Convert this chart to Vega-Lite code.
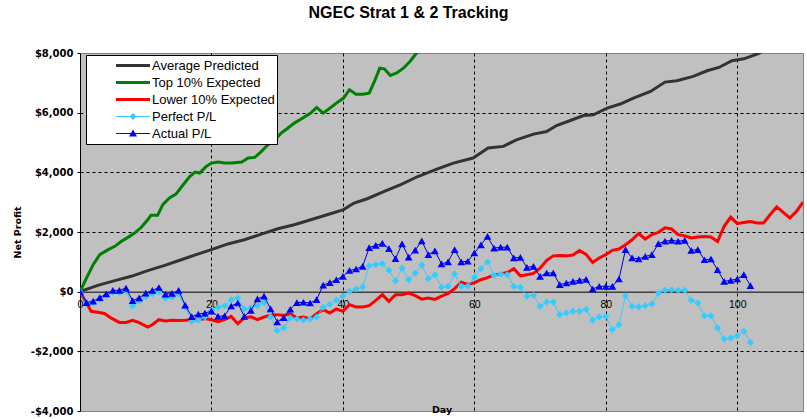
{
"$schema": "https://vega.github.io/schema/vega-lite/v6.json",
"width": 723, "height": 358,
"autosize": {"type": "none"},
"padding": {"left": 80, "top": 53, "right": 4, "bottom": 8},
"background": "white",
"title": {"text": "NGEC Strat 1 & 2 Tracking", "font": "Liberation Sans", "fontSize": 16, "fontWeight": "bold", "color": "black", "anchor": "middle", "dx": -33, "offset": 14, "baseline": "alphabetic"},
"datasets": {
"avg": [{"d":0,"v":0},{"d":2.7,"v":210},{"d":5.3,"v":370},{"d":7.8,"v":515},{"d":10.3,"v":705},{"d":12.9,"v":880},{"d":15.4,"v":1070},{"d":17.9,"v":1260},{"d":20,"v":1410},{"d":22.5,"v":1600},{"d":25,"v":1740},{"d":27.6,"v":1930},{"d":30.1,"v":2110},{"d":32.6,"v":2245},{"d":35.1,"v":2410},{"d":37.6,"v":2580},{"d":40.1,"v":2750},{"d":41.7,"v":2970},{"d":43.7,"v":3115},{"d":46.3,"v":3360},{"d":48.8,"v":3585},{"d":51.4,"v":3860},{"d":54.2,"v":4100},{"d":56.8,"v":4310},{"d":59.8,"v":4480},{"d":62.1,"v":4815},{"d":64.4,"v":4870},{"d":66.4,"v":5090},{"d":69,"v":5280},{"d":71,"v":5370},{"d":72.5,"v":5570},{"d":74.5,"v":5730},{"d":76.6,"v":5905},{"d":78.1,"v":5930},{"d":80.2,"v":6150},{"d":82.2,"v":6290},{"d":84.2,"v":6490},{"d":86.8,"v":6710},{"d":89,"v":7025},{"d":90.8,"v":7070},{"d":93.3,"v":7215},{"d":95.4,"v":7405},{"d":97.2,"v":7515},{"d":99.2,"v":7740},{"d":101,"v":7805},{"d":103,"v":7965},{"d":104.5,"v":8110},{"d":105.7,"v":8130}],
"top": [{"d":0,"v":0},{"d":1,"v":460},{"d":2,"v":905},{"d":3,"v":1240},{"d":4.3,"v":1410},{"d":5.3,"v":1520},{"d":6.3,"v":1690},{"d":7.3,"v":1820},{"d":8.3,"v":1965},{"d":9.3,"v":2150},{"d":10.3,"v":2410},{"d":10.8,"v":2560},{"d":11.8,"v":2560},{"d":12.6,"v":2915},{"d":13.6,"v":3140},{"d":14.6,"v":3270},{"d":15.7,"v":3585},{"d":16.7,"v":3860},{"d":17.5,"v":4010},{"d":18.2,"v":3975},{"d":19.2,"v":4200},{"d":20,"v":4310},{"d":21,"v":4345},{"d":22,"v":4310},{"d":23.1,"v":4310},{"d":24.6,"v":4345},{"d":25.6,"v":4480},{"d":26.6,"v":4500},{"d":27.6,"v":4700},{"d":28.6,"v":4925},{"d":29.6,"v":5090},{"d":30.6,"v":5315},{"d":31.6,"v":5480},{"d":32.6,"v":5650},{"d":33.9,"v":5820},{"d":35.1,"v":5985},{"d":36,"v":6175},{"d":37,"v":5985},{"d":38,"v":6150},{"d":39,"v":6320},{"d":40.1,"v":6490},{"d":41,"v":6770},{"d":42,"v":6620},{"d":43,"v":6620},{"d":44,"v":6655},{"d":44.8,"v":7045},{"d":45.6,"v":7490},{"d":46.3,"v":7470},{"d":47.2,"v":7250},{"d":48.2,"v":7330},{"d":49.2,"v":7490},{"d":50.2,"v":7715},{"d":51.2,"v":8000},{"d":52.5,"v":8140}],
"low": [{"d":0,"v":0},{"d":0.7,"v":-270},{"d":1.7,"v":-660},{"d":2.7,"v":-690},{"d":3.7,"v":-730},{"d":4.7,"v":-880},{"d":6,"v":-1030},{"d":7,"v":-1030},{"d":8,"v":-960},{"d":9,"v":-1040},{"d":10.3,"v":-1185},{"d":11,"v":-1110},{"d":12,"v":-940},{"d":13,"v":-980},{"d":14,"v":-960},{"d":15,"v":-970},{"d":16,"v":-960},{"d":17,"v":-930},{"d":18,"v":-950},{"d":19,"v":-900},{"d":20,"v":-940},{"d":21,"v":-1005},{"d":22,"v":-940},{"d":23,"v":-830},{"d":24,"v":-1075},{"d":25,"v":-880},{"d":26,"v":-840},{"d":27,"v":-940},{"d":28,"v":-850},{"d":29,"v":-790},{"d":30,"v":-770},{"d":31,"v":-800},{"d":32,"v":-740},{"d":33,"v":-880},{"d":34,"v":-850},{"d":35,"v":-915},{"d":36,"v":-740},{"d":37,"v":-600},{"d":38,"v":-715},{"d":39,"v":-580},{"d":40,"v":-660},{"d":41,"v":-435},{"d":42,"v":-515},{"d":43,"v":-515},{"d":44,"v":-470},{"d":45,"v":-290},{"d":46,"v":-100},{"d":47,"v":-325},{"d":48,"v":-100},{"d":49,"v":-100},{"d":50,"v":-45},{"d":51,"v":-135},{"d":52,"v":-250},{"d":53,"v":-210},{"d":54,"v":-260},{"d":55,"v":-150},{"d":56,"v":-60},{"d":57,"v":100},{"d":58,"v":320},{"d":59,"v":240},{"d":60,"v":300},{"d":61,"v":400},{"d":62,"v":470},{"d":63,"v":560},{"d":64,"v":590},{"d":65,"v":640},{"d":66,"v":770},{"d":67,"v":530},{"d":68,"v":570},{"d":69,"v":610},{"d":70,"v":790},{"d":71,"v":1050},{"d":72,"v":1200},{"d":73,"v":1210},{"d":74,"v":1200},{"d":75,"v":1230},{"d":76,"v":1380},{"d":77,"v":1250},{"d":78,"v":980},{"d":79,"v":1130},{"d":80,"v":1240},{"d":81,"v":1385},{"d":82,"v":1430},{"d":83,"v":1575},{"d":84,"v":1740},{"d":85,"v":1950},{"d":86,"v":1765},{"d":87,"v":1910},{"d":88,"v":1990},{"d":89,"v":2140},{"d":90,"v":2100},{"d":91,"v":1910},{"d":92,"v":1870},{"d":93,"v":1800},{"d":94,"v":1830},{"d":95,"v":1850},{"d":96,"v":1830},{"d":97,"v":1680},{"d":98,"v":2190},{"d":99,"v":2500},{"d":100,"v":2280},{"d":101,"v":2320},{"d":102,"v":2350},{"d":103,"v":2300},{"d":104,"v":2300},{"d":105,"v":2580},{"d":106,"v":2840},{"d":107,"v":2660},{"d":108,"v":2470},{"d":109,"v":2690},{"d":110,"v":3000}],
"perf": [{"d":0,"v":0},{"d":1,"v":-400},{"d":2,"v":-370},{"d":3,"v":-250},{"d":4,"v":-130},{"d":5,"v":-20},{"d":6,"v":-30},{"d":7,"v":40},{"d":8,"v":-470},{"d":9,"v":-330},{"d":10,"v":-170},{"d":11,"v":-70},{"d":12,"v":-10},{"d":13,"v":-220},{"d":14,"v":-180},{"d":15,"v":-80},{"d":16,"v":-520},{"d":17,"v":-990},{"d":18,"v":-950},{"d":19,"v":-850},{"d":20,"v":-620},{"d":21,"v":-520},{"d":22,"v":-470},{"d":23,"v":-270},{"d":24,"v":-210},{"d":25,"v":-580},{"d":26,"v":-540},{"d":27,"v":-470},{"d":28,"v":-360},{"d":29,"v":-850},{"d":30,"v":-1300},{"d":31,"v":-1220},{"d":32,"v":-880},{"d":33,"v":-915},{"d":34,"v":-950},{"d":35,"v":-915},{"d":36,"v":-850},{"d":37,"v":-520},{"d":38,"v":-430},{"d":39,"v":-290},{"d":40,"v":-155},{"d":41,"v":10},{"d":42,"v":90},{"d":43,"v":155},{"d":44,"v":870},{"d":45,"v":905},{"d":46,"v":940},{"d":47,"v":715},{"d":48,"v":360},{"d":49,"v":790},{"d":50,"v":400},{"d":51,"v":625},{"d":52,"v":890},{"d":53,"v":435},{"d":54,"v":570},{"d":55,"v":145},{"d":56,"v":180},{"d":57,"v":590},{"d":58,"v":180},{"d":59,"v":180},{"d":60,"v":480},{"d":61,"v":770},{"d":62,"v":995},{"d":63,"v":545},{"d":64,"v":590},{"d":65,"v":570},{"d":66,"v":180},{"d":67,"v":145},{"d":68,"v":-155},{"d":69,"v":-120},{"d":70,"v":-490},{"d":71,"v":-345},{"d":72,"v":-345},{"d":73,"v":-770},{"d":74,"v":-715},{"d":75,"v":-660},{"d":76,"v":-660},{"d":77,"v":-600},{"d":78,"v":-955},{"d":79,"v":-850},{"d":80,"v":-830},{"d":81,"v":-1270},{"d":82,"v":-1105},{"d":83,"v":-135},{"d":84,"v":-490},{"d":85,"v":-510},{"d":86,"v":-475},{"d":87,"v":-410},{"d":88,"v":-45},{"d":89,"v":45},{"d":90,"v":65},{"d":91,"v":45},{"d":92,"v":45},{"d":93,"v":-290},{"d":94,"v":-380},{"d":95,"v":-805},{"d":96,"v":-805},{"d":97,"v":-1220},{"d":98,"v":-1590},{"d":99,"v":-1550},{"d":100,"v":-1475},{"d":101,"v":-1330},{"d":102,"v":-1700}],
"act": [{"d":0,"v":0},{"d":1,"v":-365},{"d":2,"v":-320},{"d":3,"v":-200},{"d":4,"v":-75},{"d":5,"v":45},{"d":6,"v":45},{"d":7,"v":120},{"d":8,"v":-300},{"d":9,"v":-210},{"d":10,"v":-50},{"d":11,"v":40},{"d":12,"v":140},{"d":13,"v":-80},{"d":14,"v":-60},{"d":15,"v":40},{"d":16,"v":-450},{"d":17,"v":-840},{"d":18,"v":-750},{"d":19,"v":-720},{"d":20,"v":-650},{"d":21,"v":-830},{"d":22,"v":-810},{"d":23,"v":-480},{"d":24,"v":-380},{"d":25,"v":-830},{"d":26,"v":-630},{"d":27,"v":-245},{"d":28,"v":-150},{"d":29,"v":-580},{"d":30,"v":-1010},{"d":31,"v":-870},{"d":32,"v":-590},{"d":33,"v":-370},{"d":34,"v":-355},{"d":35,"v":-380},{"d":36,"v":-270},{"d":37,"v":220},{"d":38,"v":300},{"d":39,"v":400},{"d":40,"v":510},{"d":41,"v":710},{"d":42,"v":760},{"d":43,"v":850},{"d":44,"v":1475},{"d":45,"v":1555},{"d":46,"v":1620},{"d":47,"v":1445},{"d":48,"v":1110},{"d":49,"v":1605},{"d":50,"v":1160},{"d":51,"v":1395},{"d":52,"v":1700},{"d":53,"v":1240},{"d":54,"v":1370},{"d":55,"v":930},{"d":56,"v":1000},{"d":57,"v":1410},{"d":58,"v":1000},{"d":59,"v":1020},{"d":60,"v":1300},{"d":61,"v":1570},{"d":62,"v":1850},{"d":63,"v":1460},{"d":64,"v":1490},{"d":65,"v":1490},{"d":66,"v":1130},{"d":67,"v":1150},{"d":68,"v":815},{"d":69,"v":850},{"d":70,"v":510},{"d":71,"v":625},{"d":72,"v":625},{"d":73,"v":235},{"d":74,"v":290},{"d":75,"v":345},{"d":76,"v":380},{"d":77,"v":410},{"d":78,"v":90},{"d":79,"v":180},{"d":80,"v":180},{"d":81,"v":180},{"d":82,"v":425},{"d":83,"v":1410},{"d":84,"v":1130},{"d":85,"v":1095},{"d":86,"v":1180},{"d":87,"v":1240},{"d":88,"v":1610},{"d":89,"v":1690},{"d":90,"v":1720},{"d":91,"v":1690},{"d":92,"v":1720},{"d":93,"v":1385},{"d":94,"v":1410},{"d":95,"v":1070},{"d":96,"v":1095},{"d":97,"v":735},{"d":98,"v":345},{"d":99,"v":380},{"d":100,"v":425},{"d":101,"v":570},{"d":102,"v":200}],
"names": [{"s":"Average Predicted"},{"s":"Top 10% Expected"},{"s":"Lower 10% Expected"},{"s":"Perfect P/L"},{"s":"Actual P/L"}]
},
"encoding": {
"x": {"field": "d", "type": "quantitative", "scale": {"domain": [0, 110], "nice": false, "zero": false},
 "axis": {"values": [0,20,40,60,80,100], "offset": -119.33, "ticks": false, "labelPadding": 8, "labelFont": "Liberation Sans", "labelFontSize": 10.5, "labelColor": "black", "labelFlush": false, "domainColor": "black", "domainWidth": 1,
  "grid": true, "gridColor": "black", "gridDash": [3,3], "gridWidth": 1, "gridOpacity": {"condition": {"test": "datum.value == 0", "value": 0}, "value": 1},
  "title": "Day", "titleFont": "DejaVu Sans", "titleFontSize": 9.5, "titleFontWeight": "bold", "titleColor": "black", "titleY": 121, "titleBaseline": "alphabetic"}},
"y": {"field": "v", "type": "quantitative", "scale": {"domain": [-4000, 8000], "nice": false, "zero": false},
 "axis": {"values": [-4000,-2000,0,2000,4000,6000,8000], "labelExpr": "(datum.value < 0 ? '-$' : '$') + format(abs(datum.value), ',')", "labelFont": "DejaVu Sans", "labelFontWeight": "bold", "labelFontSize": 10, "labelColor": "black", "labelPadding": 4, "tickSize": 3, "tickColor": "black", "domainColor": "black", "domainWidth": 1,
  "grid": true, "gridColor": "black", "gridDash": [3,3], "gridWidth": 1, "gridOpacity": {"condition": {"test": "datum.value == 8000 || datum.value == -4000 || datum.value == 0", "value": 0}, "value": 1},
  "title": "Net Profit", "titleFont": "DejaVu Sans", "titleFontSize": 9.5, "titleFontWeight": "bold", "titleColor": "black", "titleX": -60, "titleBaseline": "alphabetic"}}
},
"layer": [
{"data": {"name": "avg"}, "mark": {"type": "line", "color": "#333333", "strokeWidth": 3, "clip": true}},
{"data": {"name": "top"}, "mark": {"type": "line", "color": "#008000", "strokeWidth": 3, "clip": true}},
{"data": {"name": "low"}, "mark": {"type": "line", "color": "#FF0000", "strokeWidth": 3, "clip": true}},
{"data": {"name": "perf"}, "mark": {"type": "line", "color": "#33CCFF", "strokeWidth": 1, "clip": true}},
{"data": {"name": "perf"}, "mark": {"type": "point", "shape": "diamond", "filled": true, "size": 50, "color": "#33CCFF", "opacity": 1, "clip": true}},
{"data": {"name": "act"}, "mark": {"type": "line", "color": "#0000CC", "strokeWidth": 1, "clip": true}},
{"data": {"name": "act"}, "mark": {"type": "point", "shape": "triangle-up", "filled": true, "size": 60, "color": "#0000FF", "opacity": 1, "clip": true}},
{"data": {"name": "names"}, "transform": [{"filter": "false"}],
 "mark": {"type": "point", "filled": true},
 "encoding": {
  "x": {"value": 0}, "y": {"value": 0},
  "color": {"field": "s", "type": "nominal",
   "scale": {"domain": ["Average Predicted","Top 10% Expected","Lower 10% Expected","Perfect P/L","Actual P/L"], "range": ["#333333","#008000","#FF0000","#33CCFF","#0000FF"]},
   "legend": {"title": null, "orient": "none", "legendX": 6, "legendY": 2, "fillColor": "white", "strokeColor": "black", "padding": 2, "labelFont": "Liberation Sans", "labelFontSize": 13, "labelColor": "black", "labelOffset": 2, "symbolSize": 3844, "symbolStrokeWidth": 0, "clipHeight": 17, "rowPadding": 0, "symbolOpacity": 1, "labelExpr": "datum.label + '\u00a0\u00a0\u00a0\u00a0\u00a0\u00a0\u00a0'"}},
  "shape": {"field": "s", "type": "nominal",
   "scale": {"domain": ["Average Predicted","Top 10% Expected","Lower 10% Expected","Perfect P/L","Actual P/L"],
    "range": ["M-0.097,-0.048L1,-0.048L1,0.048L-0.097,0.048Z","M-0.097,-0.048L1,-0.048L1,0.048L-0.097,0.048Z","M-0.097,-0.048L1,-0.048L1,0.048L-0.097,0.048Z","M-0.097,-0.016L1,-0.016L1,0.016L-0.097,0.016ZM0.452,-0.113L0.565,0L0.452,0.113L0.339,0Z","M-0.097,-0.016L1,-0.016L1,0.016L-0.097,0.016ZM0.452,-0.13L0.58,0.097L0.323,0.097Z"]},
   "legend": {"title": null, "orient": "none", "legendX": 6, "legendY": 2, "fillColor": "white", "strokeColor": "black", "padding": 2, "labelFont": "Liberation Sans", "labelFontSize": 13, "labelColor": "black", "labelOffset": 2, "symbolSize": 3844, "symbolStrokeWidth": 0, "clipHeight": 17, "rowPadding": 0, "symbolOpacity": 1, "labelExpr": "datum.label + '\u00a0\u00a0\u00a0\u00a0\u00a0\u00a0\u00a0'"}}
 }}
],
"config": {
 "view": {"fill": "#C0C0C0", "stroke": "#808080", "strokeWidth": 1},
 "font": "Liberation Sans"
}
}
